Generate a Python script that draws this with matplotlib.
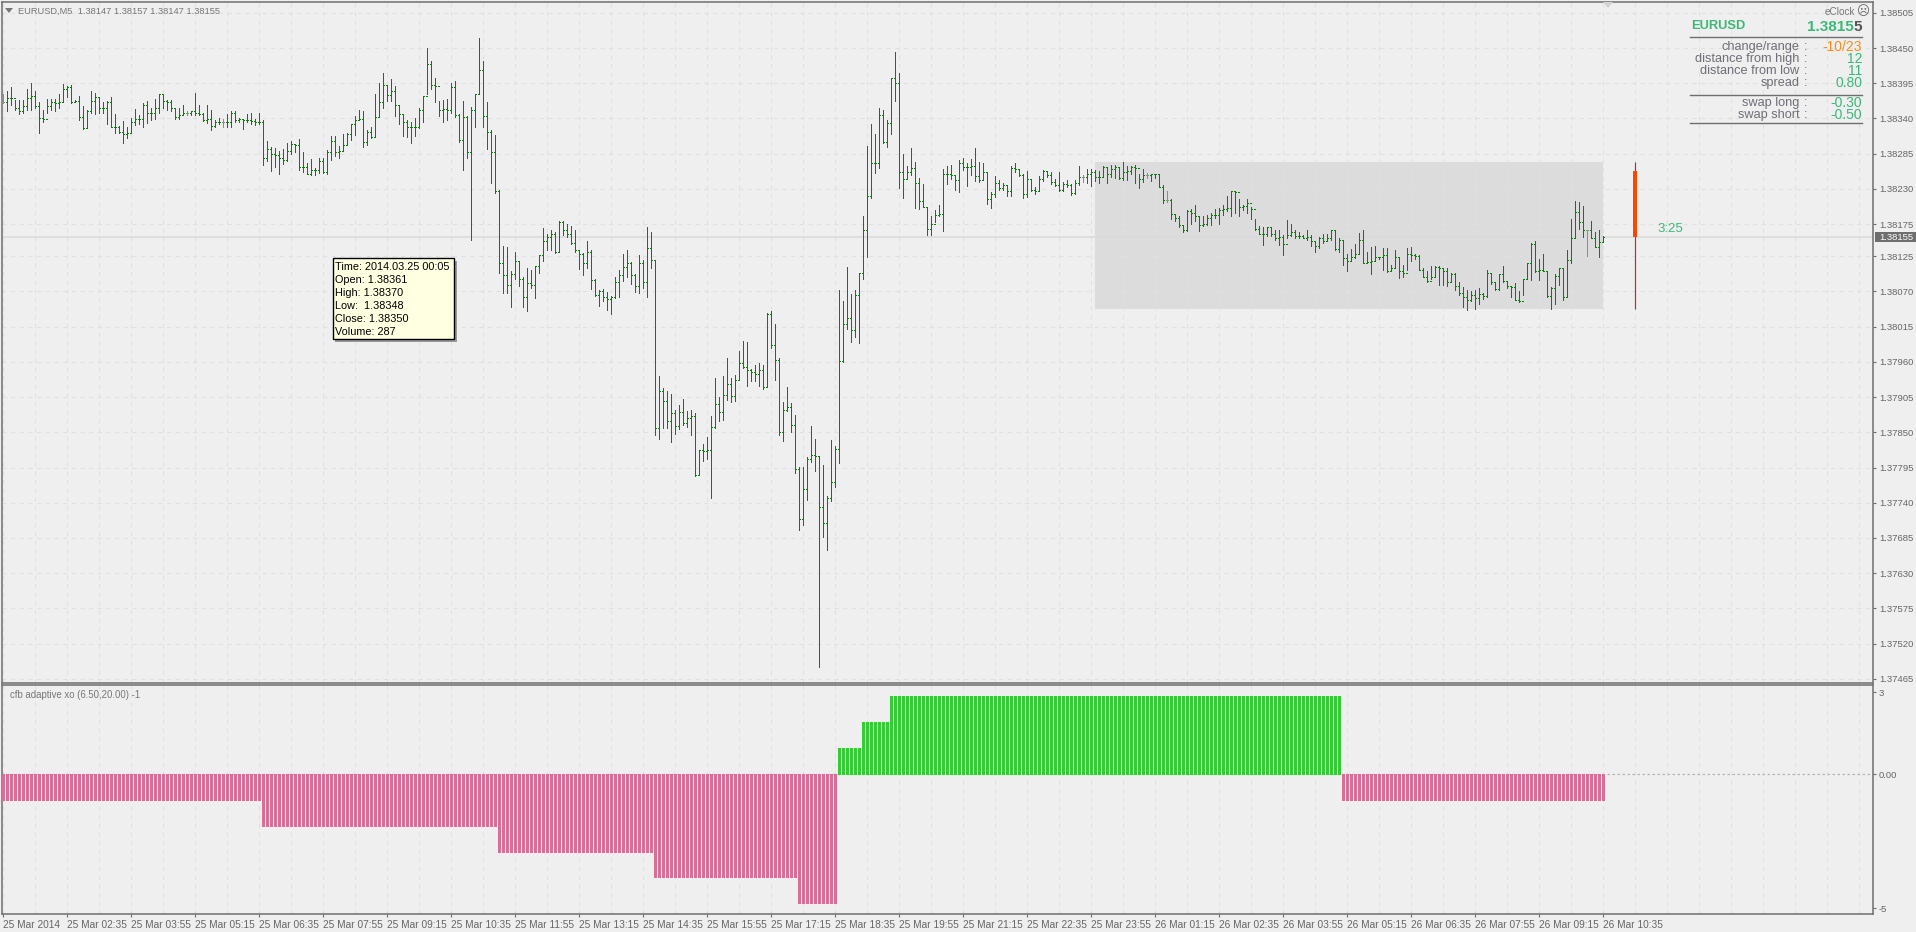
import matplotlib
matplotlib.use("Agg")
import matplotlib.pyplot as plt
from matplotlib.patches import Rectangle, Polygon
from matplotlib.lines import Line2D

W, H = 1916, 932
BG = "#EFEFEF"
FRAME = "#6E6E6E"
GRID = "#E0E0E0"
TXT = "#666666"
SEA = "#3CB878"
plt.rcParams["font.family"] = ["Liberation Sans", "DejaVu Sans"]

# prices are stored as points above 1.37000
base_price = 1.37
high_pts = [
1378,1383,1389,1369,1369,1369,1386,1395,1383,1365,1353,1371,1371,1371,1378,1394,1390,1392,1369,1375,
1359,1353,1383,1380,1374,1366,1368,1373,1347,1328,1336,1326,1340,1355,1345,1364,1368,1357,1371,1378,
1378,1369,1369,1356,1357,1361,1351,1352,1380,1361,1348,1361,1354,1338,1341,1339,1347,1351,1351,1340,
1339,1347,1348,1339,1349,1337,1305,1296,1294,1290,1292,1301,1305,1299,1308,1288,1270,1276,1262,1279,
1278,1291,1313,1312,1297,1316,1317,1331,1344,1354,1351,1322,1326,1378,1396,1411,1392,1401,1390,1361,
1347,1338,1335,1340,1357,1375,1450,1430,1404,1368,1369,1371,1396,1398,1347,1368,1344,1358,1379,1465,
1429,1366,1322,1314,1229,1141,1139,1102,1131,1117,1092,1106,1103,1110,1127,1169,1160,1166,1163,1180,
1180,1175,1172,1166,1135,1130,1149,1135,1090,1072,1074,1069,1063,1092,1104,1129,1135,1116,1097,1127,
1119,1170,1162,1119,938,919,914,910,885,893,902,883,885,880,823,832,843,876,935,905,
938,966,934,939,977,993,991,949,955,958,955,1036,1039,1019,966,897,921,895,877,796,
796,811,860,840,813,799,751,838,829,1072,1055,1108,1066,1072,1097,1188,1297,1331,1316,1356,
1354,1338,1404,1444,1411,1284,1266,1294,1272,1247,1238,1202,1187,1197,1205,1261,1266,1267,1252,1275,
1279,1270,1277,1294,1272,1270,1256,1225,1250,1244,1239,1236,1266,1270,1261,1253,1258,1246,1233,1250,
1259,1258,1256,1246,1256,1241,1244,1238,1244,1266,1252,1261,1261,1260,1258,1266,1264,1267,1267,1265,
1272,1266,1266,1268,1253,1261,1255,1254,1254,1254,1236,1226,1214,1191,1187,1174,1197,1198,1205,1188,
1188,1189,1192,1199,1200,1205,1219,1226,1227,1214,1205,1215,1202,1183,1172,1171,1170,1170,1166,1166,
1158,1181,1175,1166,1162,1158,1166,1158,1148,1155,1159,1160,1166,1166,1154,1150,1129,1136,1144,1161,
1166,1132,1140,1141,1124,1138,1137,1111,1135,1123,1111,1137,1139,1129,1127,1106,1102,1110,1110,1110,
1106,1106,1099,1098,1085,1077,1072,1071,1072,1076,1067,1104,1098,1085,1097,1109,1085,1078,1083,1071,
1090,1115,1146,1149,1120,1129,1102,1077,1097,1106,1106,1135,1183,1211,1210,1203,1166,1180,1163,1166,
1157]
low_pts = [
1364,1352,1361,1353,1347,1349,1353,1353,1356,1318,1335,1349,1353,1352,1356,1365,1374,1364,1365,1338,
1324,1325,1348,1347,1348,1348,1331,1326,1318,1318,1301,1310,1318,1330,1331,1327,1333,1338,1339,1349,
1356,1353,1352,1339,1339,1345,1345,1345,1346,1345,1336,1333,1322,1326,1331,1327,1327,1327,1335,1335,
1324,1335,1332,1330,1332,1267,1273,1258,1265,1253,1269,1274,1285,1287,1259,1257,1253,1252,1251,1255,
1255,1254,1275,1281,1279,1290,1299,1306,1314,1337,1296,1299,1309,1311,1343,1357,1368,1368,1344,1331,
1312,1311,1301,1313,1325,1335,1378,1386,1365,1344,1335,1337,1349,1343,1304,1260,1279,1151,1326,1378,
1327,1293,1239,1224,1099,1068,1068,1046,1089,1079,1046,1040,1076,1060,1098,1118,1135,1135,1130,1132,
1158,1155,1144,1132,1105,1096,1107,1074,1063,1047,1055,1041,1035,1059,1062,1087,1093,1082,1069,1068,
1076,1062,1106,845,839,856,857,835,848,855,861,859,846,782,784,805,808,748,857,867,
869,900,898,899,931,951,922,930,930,922,917,922,982,931,846,836,883,850,787,697,
705,744,803,789,484,686,666,742,765,802,960,1012,991,999,990,1090,1124,1216,1255,1262,
1301,1296,1316,1368,1232,1216,1245,1251,1201,1199,1202,1158,1158,1178,1187,1165,1238,1246,1228,1225,
1259,1234,1252,1242,1241,1244,1206,1201,1218,1228,1228,1219,1219,1257,1250,1216,1217,1227,1222,1227,
1242,1249,1238,1234,1227,1227,1233,1220,1222,1236,1241,1239,1235,1243,1240,1248,1239,1249,1247,1245,
1244,1244,1253,1239,1232,1241,1247,1243,1247,1233,1208,1209,1183,1180,1171,1162,1164,1176,1180,1164,
1172,1173,1174,1184,1175,1189,1196,1187,1193,1188,1197,1193,1183,1166,1159,1142,1156,1156,1151,1142,
1127,1154,1156,1154,1154,1153,1150,1141,1132,1137,1145,1148,1150,1135,1132,1111,1102,1119,1122,1129,
1114,1114,1097,1119,1120,1104,1101,1102,1106,1091,1093,1104,1118,1120,1103,1092,1085,1090,1094,1080,
1080,1078,1085,1072,1065,1046,1041,1055,1042,1051,1058,1062,1081,1072,1072,1085,1076,1062,1056,1054,
1064,1090,1088,1101,1088,1102,1062,1042,1051,1080,1057,1063,1115,1154,1167,1155,1125,1154,1139,1124,
1147]
close_pts = [
1366,1372,1372,1357,1351,1359,1372,1375,1359,1340,1339,1360,1365,1364,1365,1386,1389,1365,1368,1343,
1325,1352,1367,1373,1357,1357,1366,1327,1326,1319,1316,1318,1335,1339,1339,1361,1348,1348,1356,1378,
1368,1365,1356,1343,1345,1348,1348,1351,1348,1347,1338,1339,1328,1335,1335,1335,1334,1349,1337,1339,
1338,1337,1336,1335,1334,1279,1293,1285,1283,1279,1275,1290,1300,1298,1265,1264,1254,1259,1260,1274,
1257,1287,1305,1288,1290,1299,1316,1331,1338,1339,1304,1319,1311,1343,1365,1392,1376,1383,1361,1347,
1334,1327,1326,1327,1353,1375,1425,1392,1391,1354,1355,1353,1389,1345,1307,1342,1288,1353,1379,1416,
1344,1319,1288,1226,1114,1096,1080,1097,1117,1090,1062,1083,1080,1110,1127,1148,1155,1160,1132,1179,
1166,1160,1145,1134,1129,1115,1132,1088,1064,1071,1062,1058,1062,1085,1095,1108,1115,1096,1079,1115,
1085,1137,1119,856,914,899,867,880,860,881,864,872,875,784,823,820,823,858,894,881,
908,926,906,932,958,952,947,944,941,948,921,1035,987,963,850,885,890,862,792,715,
761,808,815,813,733,708,747,773,824,962,1019,1028,1010,1065,1098,1166,1219,1270,1271,1346,
1304,1333,1404,1396,1257,1246,1256,1262,1239,1211,1202,1168,1176,1190,1191,1254,1253,1252,1244,1271,
1265,1264,1266,1250,1244,1256,1214,1222,1239,1231,1236,1227,1262,1261,1252,1222,1246,1228,1227,1246,
1258,1252,1241,1236,1228,1238,1236,1223,1239,1248,1248,1254,1257,1248,1249,1265,1253,1261,1265,1247,
1257,1258,1264,1262,1245,1251,1251,1253,1254,1233,1213,1213,1191,1184,1174,1166,1196,1193,1188,1174,
1176,1184,1189,1190,1197,1198,1201,1226,1225,1202,1203,1208,1198,1167,1159,1160,1170,1160,1154,1155,
1144,1158,1162,1156,1157,1154,1155,1148,1141,1154,1148,1153,1166,1136,1150,1122,1118,1124,1129,1150,
1115,1116,1118,1124,1123,1127,1102,1106,1123,1102,1098,1129,1127,1126,1104,1093,1087,1092,1108,1107,
1102,1085,1097,1078,1067,1062,1057,1064,1059,1066,1063,1098,1084,1074,1097,1087,1079,1077,1057,1055,
1090,1115,1144,1102,1103,1102,1063,1076,1094,1106,1062,1119,1154,1194,1178,1166,1166,1154,1139,1147,
1155]
doji_bars = [0, 46, 55, 270, 286, 291, 396]

range_bar = 408
range_open, range_high, range_low, range_close = 1258, 1272, 1043, 1155
day_start_bar, day_end_bar = 273, 400

cfb_values = [-1]*65 + [-2]*59 + [-3]*39 + [-4]*36 + [-5]*10 + [1]*6 + [2]*7 + [3]*113 + [-1]*66

price_ticks = [1.38505,1.38450,1.38395,1.38340,1.38285,1.38230,1.38175,1.38125,1.38070,1.38015,
               1.37960,1.37905,1.37850,1.37795,1.37740,1.37685,1.37630,1.37575,1.37520,1.37465]
time_labels = ["25 Mar 2014","25 Mar 02:35","25 Mar 03:55","25 Mar 05:15","25 Mar 06:35","25 Mar 07:55",
               "25 Mar 09:15","25 Mar 10:35","25 Mar 11:55","25 Mar 13:15","25 Mar 14:35","25 Mar 15:55",
               "25 Mar 17:15","25 Mar 18:35","25 Mar 19:55","25 Mar 21:15","25 Mar 22:35","25 Mar 23:55",
               "26 Mar 01:15","26 Mar 02:35","26 Mar 03:55","26 Mar 05:15","26 Mar 06:35","26 Mar 07:55",
               "26 Mar 09:15","26 Mar 10:35"]
tooltip_lines = ["Time: 2014.03.25 00:05","Open: 1.38361","High: 1.38370","Low:  1.38348","Close: 1.38350","Volume: 287"]
info_rows = [("change/range",46.7,"-10/23","#FF8C1A"),("distance from high",58.7,"12",SEA),
             ("distance from low",70.7,"11",SEA),("spread",82.7,"0.80",SEA),
             ("swap long",102.7,"-0.30",SEA),("swap short",114.7,"-0.50",SEA)]

def px(x, y):
    return x / W, 1 - y / H

def price(p):
    return base_price + p / 1e5

def ftext(x, y, s, **kw):
    kw.setdefault("va", "center")
    kw.setdefault("color", TXT)
    fx, fy = px(x, y)
    return fig.text(fx, fy, s, **kw)

fig = plt.figure(figsize=(W / 100, H / 100), dpi=100, facecolor=BG)

def make_axes(top, bottom):
    l, r = 2, 1873
    return fig.add_axes([l / W, 1 - bottom / H, (r - l) / W, (bottom - top) / H], facecolor=BG)

ax = make_axes(2, 683)
sub = make_axes(685, 914)
n_bars = len(close_pts)
bars = list(range(n_bars))
xlim = (-0.25, 467.5)
grid_x = list(range(0, 468, 8))

for a in (ax, sub):
    a.set_xlim(*xlim)
    for s in a.spines.values():
        s.set_color(FRAME)
        s.set_linewidth(1.1)
    a.vlines(grid_x, 0, 1, transform=a.get_xaxis_transform(), colors=GRID, linewidths=0.8,
             linestyles=(0, (3.6, 4.2)), zorder=1.5)

# main panel
ax.set_ylim(1.374585, 1.385219)
ax.add_patch(Rectangle((day_start_bar, price(range_low)), day_end_bar - day_start_bar,
                       (range_high - range_low) / 1e5, facecolor="#DCDCDC", edgecolor="none", zorder=1))
ax.hlines(price_ticks, *xlim, colors=GRID, linewidths=0.8, linestyles=(0, (3.6, 4.2)), zorder=1.5)
ax.axhline(price(close_pts[-1]), color="#DADADA", lw=1.1, zorder=1.7)

opens = [close_pts[0]] + close_pts[:-1]
colors = ["#8C8C8C" if i in doji_bars else "#0A7D0A" for i in bars]
kw = dict(linewidths=0.72, antialiased=False, zorder=3, capstyle="butt")
ax.vlines(bars, [price(v) for v in low_pts], [price(v) for v in high_pts], colors=colors, **kw)
ax.hlines([price(v) for v in opens], [i - 0.25 for i in bars], bars, colors=colors, **kw)
ax.hlines([price(v) for v in close_pts], bars, [i + 0.25 for i in bars], colors=colors, **kw)

ax.vlines([range_bar], [price(range_low)], [price(range_high)], colors="#C8213C", linewidths=0.85, zorder=3)
ax.bar([range_bar], [(range_open - range_close) / 1e5], bottom=price(range_close), width=0.78,
       color="#FF4500", linewidth=0, zorder=4)

ax.yaxis.tick_right()
ax.set_yticks(price_ticks)
ax.set_yticklabels([f"{v:.5f}" for v in price_ticks])
ax.tick_params(axis="y", length=2.2, width=0.8, color=FRAME, labelcolor=TXT, labelsize=6.8, pad=2.5)
ax.set_xticks([])

# indicator panel
cfb_colors = ["#32CD32" if v > 0 else "#DB6E96" for v in cfb_values]
sub.vlines(bars, 0, cfb_values, colors=cfb_colors, linewidths=2.16, capstyle="butt", antialiased=False, zorder=3)
sub.set_ylim(-5.415, 3.443)
sub.axhline(0, color="#B4B4B4", lw=0.9, ls=(0, (2, 2)), zorder=2)
sub.yaxis.tick_right()
sub.set_yticks([3.17, 0, -5.2])
sub.set_yticklabels(["3", "0.00", "-5"])
sub.tick_params(axis="y", length=2.2, width=0.8, color=FRAME, labelcolor=TXT, labelsize=6.8, pad=1.5)
sub.set_xticks(list(range(0, 16 * len(time_labels), 16)))
sub.set_xticklabels(time_labels, ha="left")
sub.tick_params(axis="x", length=2.4, width=0.8, color=FRAME, labelcolor=TXT, labelsize=7.3, pad=2.0)

# legends
fig.add_artist(Polygon([px(5, 8), px(13, 8), px(9, 13)], closed=True, transform=fig.transFigure,
                       facecolor="#777777", edgecolor="none"))
fig.add_artist(Polygon([px(1603, 2), px(1613, 2), px(1608, 8)], closed=True, transform=fig.transFigure,
                       facecolor="#D2D2D2", edgecolor="none"))
ftext(18, 11, "EURUSD,M5  1.38147 1.38157 1.38147 1.38155", fontsize=6.7, color="#777777")
ftext(10, 695, "cfb adaptive xo (6.50,20.00) -1", fontsize=6.9, color="#777777")

# current price label
fig.add_artist(Rectangle(px(1875, 242), 41 / W, 10 / H, transform=fig.transFigure, facecolor="#6E6E6E", edgecolor="none"))
ftext(1879, 237, "1.38155", fontsize=6.8, color="white")

# tooltip
fig.add_artist(Rectangle(px(335, 342), 122 / W, 81 / H, transform=fig.transFigure, facecolor="#555555", edgecolor="none", alpha=0.55, zorder=5))
fig.add_artist(Rectangle(px(333, 339), 121 / W, 81 / H, transform=fig.transFigure, facecolor="#FFFFE1", edgecolor="black", linewidth=1, zorder=6))
for k, line in enumerate(tooltip_lines):
    ftext(335, 267 + 13 * k, line, fontsize=7.8, color="black", zorder=7)

# info panel
ftext(1855, 12, "eClock", fontsize=7.2, ha="right", color="#777777")
ftext(1863, 12, "\u2639", fontsize=9, ha="center", color="#666666", family="DejaVu Sans")
ftext(1691, 26, "EURUSD", fontsize=9.3, color=SEA, weight="bold")
ftext(1853.5, 27, "1.3815", fontsize=11, ha="right", color=SEA, weight="bold")
ftext(1862, 27, "5", fontsize=11, ha="right", color="#555555", weight="bold")
for yy in (36.5, 94.5, 122.5):
    x0, y0 = px(1690, yy)
    x1, _ = px(1862, yy)
    fig.add_artist(Line2D([x0, x1], [y0, y0], transform=fig.transFigure, color="#6E6E6E", lw=1.0))
for label, yy, val, col in info_rows:
    ftext(1799.5, yy, label, fontsize=9.2, ha="right", color="#6E6E78")
    ftext(1805.5, yy, ":", fontsize=9.2, ha="center", color="#6E6E78")
    ftext(1862, yy, val, fontsize=10, ha="right", color=col)
ftext(1657, 229, "3:25", fontsize=9.5, color=SEA)

fig.savefig("out.png", dpi=100, facecolor=BG)
